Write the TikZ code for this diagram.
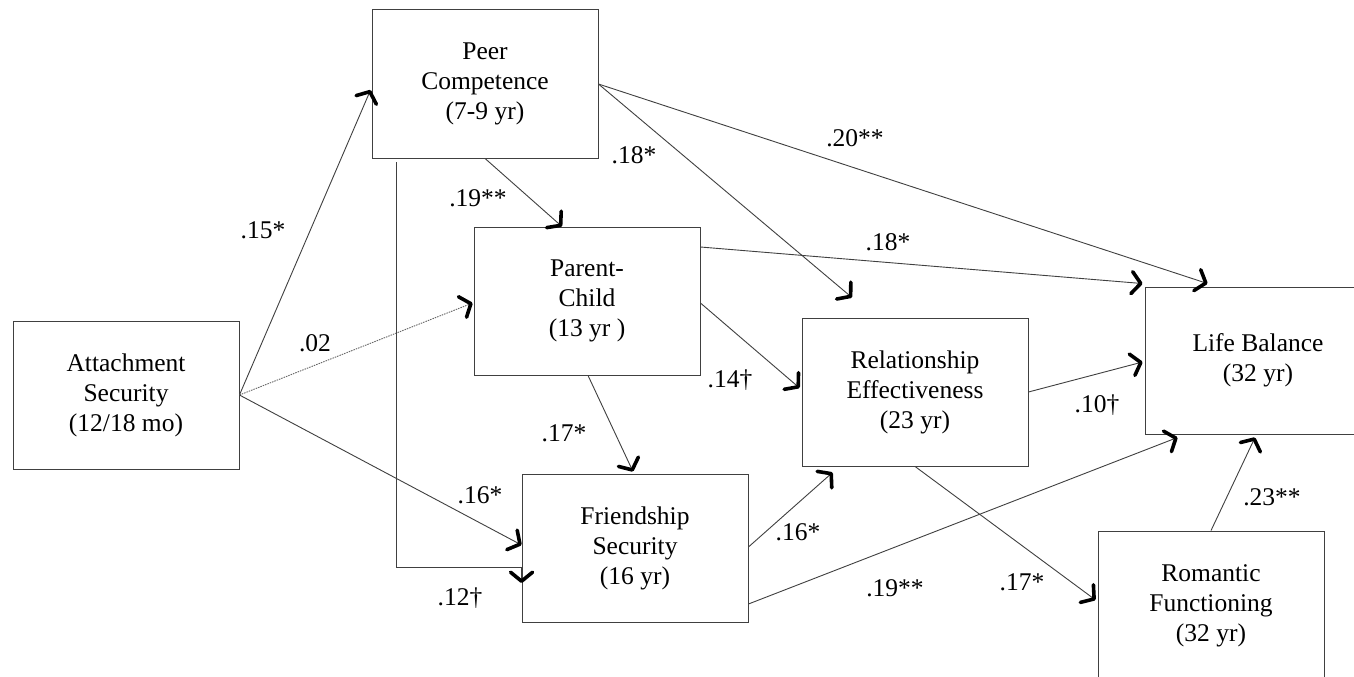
\documentclass[tikz,border=0pt]{standalone}
\usepackage{fontspec}
\setmainfont{Liberation Serif}
\usetikzlibrary{arrows.meta,calc}
\begin{document}
\begin{tikzpicture}[x=1pt,y=-1pt,
  box/.style={draw=black!75, line width=0.9pt, minimum width=226pt, minimum height=148pt, align=center, font=\fontsize{25.5}{30}\selectfont, inner sep=0pt},
  conn/.style={draw=black!75, line width=0.9pt, -{Straight Barb[length=9pt,width=22pt,line width=3.6pt,round,color=black]}},
  dotconn/.style={conn, draw=black!60, dash pattern=on 1.5pt off 1pt},
  coef/.style={font=\fontsize{25.5}{30}\selectfont, inner sep=0pt}]
\useasboundingbox (0,0) rectangle (1354,677);
\clip (0,0) rectangle (1354,677);
\fill[white] (0,0) rectangle (1354,677);

\node[box] (att) at (126,395) {Attachment\\Security\\(12/18 mo)};
\node[box, minimum height=149pt] (peer) at (485,83.5) {Peer\\Competence\\(7-9 yr)};
\node[box] (pc) at (587,301) {Parent-\\Child\\(13 yr )};
\node[box] (rel) at (915,392) {Relationship\\Effectiveness\\(23 yr)};
\node[box] (fr) at (635,548) {Friendship\\Security\\(16 yr)};
\node[box, minimum height=147pt] (lb) at (1258,360.5) {Life Balance\\(32 yr)};
\node[box, minimum height=150pt] (rom) at (1211,606) {Romantic\\Functioning\\(32 yr)};

% from attachment
\draw[conn] (att.east) -- ($(peer.west)+(-1,6.5)$);
\draw[dotconn] (att.east) -- ($(pc.west)+(-1,2)$);
\draw[conn] (att.east) -- ($(fr.west)+(0,-3)$);

% from peer
\draw[conn] ($(peer.south west)+(25,4)$) |- ($(fr.west)+(0,19)$) -- ($(fr.west)+(0,35)$);
\draw[conn] (peer.south) -- ($(pc.north)+(-25,0)$);
\draw[conn] ($(peer.east)+(0,0.5)$) -- ($(rel.north)+(-63,-20)$);
\draw[conn] ($(peer.east)+(0,0.5)$) -- ($(lb.north west)+(63,-3)$);

% from parent-child
\draw[conn] ($(pc.east)+(0,-54)$) -- ($(lb.north west)+(-2,-3)$);
\draw[conn] ($(pc.east)+(0,2)$) -- ($(rel.west)+(-2,-4)$);
\draw[conn] ($(pc.south)+(1,0)$) -- ($(fr.north)+(-2,-2)$);

% from relationship
\draw[conn] (rel.east) -- ($(lb.west)+(-2,1.5)$);
\draw[conn] (rel.south) -- ($(rom.west)+(-2,-6)$);

% from friendship
\draw[conn] ($(fr.east)+(0,-1)$) -- ($(rel.south west)+(31,6)$);
\draw[conn] ($(fr.east)+(0,56)$) -- ($(lb.south west)+(33,3)$);

% from romantic
\draw[conn] (rom.north) -- ($(lb.south)+(-3,3)$);

% coefficients
\node[coef] (c1) at (263,230) {.15*};
\node[coef] (c2) at (315,343) {.02};
\node[coef] (c3) at (480,495) {.16*};
\node[coef] (c4) at (460,598) {.12†};
\node[coef] (c5) at (478,198) {.19**};
\node[coef] (c6) at (634,155) {.18*};
\node[coef] (c7) at (855,138) {.20**};
\node[coef] (c8) at (888,242) {.18*};
\node[coef] (c9) at (730,380) {.14†};
\node[coef] (c10) at (564,433) {.17*};
\node[coef] (c11) at (1097,405) {.10†};
\node[coef] (c12) at (798,532) {.16*};
\node[coef] (c13) at (895,588) {.19**};
\node[coef] (c14) at (1022,582) {.17*};
\node[coef] (c15) at (1272,497) {.23**};
\end{tikzpicture}
\end{document}
